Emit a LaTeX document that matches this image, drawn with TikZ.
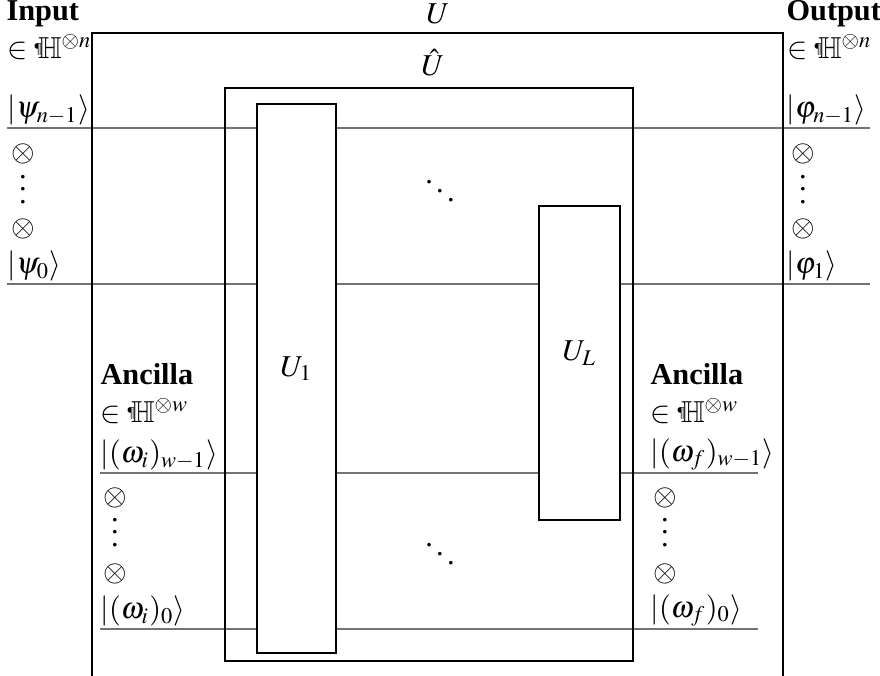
\documentclass[tikz,border=0pt]{standalone}
\usepackage{amsmath}
\usepackage{mathptmx}
\usepackage{amssymb}
\usepackage{fontspec}
\setmainfont{Liberation Serif}
\usetikzlibrary{positioning,fit}

\newcommand{\hilb}[1]{\in\text{\raisebox{.35ex}{\tiny\P}}\!\mathbb{H}^{\otimes #1}}
\tikzset{
	wire/.style={draw=black!55, line width=0.5pt},
	gate/.style={draw, thick, fill=white, inner sep=0pt},
	frame/.style={draw, thick},
	lbl/.style={inner sep=0pt},
	ket/.style={inner sep=0pt, anchor=south west},
	dots/.style={inner sep=0pt, anchor=base}
}

\begin{document}
\begin{tikzpicture}[x=0.33pt,y=-0.33pt]
	\useasboundingbox (0,0) rectangle (880,676);
	% wire ends
	\coordinate (in1) at (7,128);   \coordinate (out1) at (870,128);
	\coordinate (in0) at (7,284);   \coordinate (out0) at (870,284);
	\coordinate (ai1) at (100,473); \coordinate (ao1) at (758,473);
	\coordinate (ai0) at (100,629); \coordinate (ao0) at (758,629);
	\draw[wire] (in1) -- (out1);
	\draw[wire] (in0) -- (out0);
	\draw[wire] (ai1) -- (ao1);
	\draw[wire] (ai0) -- (ao0);
	% U (open at the bottom)
	\coordinate (ubl) at (92,676); \coordinate (ubr) at (783,676);
	\draw[frame] (ubl) |- (783,33) -- (ubr);
	\node[lbl] (u) at (438,14) {$U$};
	% U hat
	\node[frame, inner sep=0pt, fit={(225,88) (633,661)}] (uhat) {};
	\node[lbl] (uhatlbl) at (433,63) {$\hat{U}$};
	% gates
	\node[gate, fit={(257,104) (336,653)}] (U1) {$U_1$};
	\node[gate, fit={(539,206) (620,520)}] (UL) {$U_L$};
	\node[lbl] (dd1) at (440,182) {$\ddots$};
	\node[lbl] (dd2) at (440,545) {$\ddots$};
	% input side
	\node[lbl, anchor=west] (inp) at (6,14) {\textbf{Input}};
	\node[lbl, anchor=west] (inh) at (7,47) {$\hilb{n}$};
	\node[ket] (psi1) at (7,126) {$\lvert\psi_{n-1}\rangle$};
	\node[lbl] (it1) at (23,154) {$\otimes$};
	\node[dots] (iv) at (23,203) {$\vdots$};
	\node[lbl] (it2) at (23,229) {$\otimes$};
	\node[ket] (psi0) at (7,282) {$\lvert\psi_0\rangle$};
	% output side
	\node[lbl, anchor=west] (outp) at (786,14) {\textbf{Output}};
	\node[lbl, anchor=west] (outh) at (787,47) {$\hilb{n}$};
	\node[ket] (phi1) at (786,126) {$\lvert\varphi_{n-1}\rangle$};
	\node[lbl] (ot1) at (803,154) {$\otimes$};
	\node[dots] (ov) at (803,203) {$\vdots$};
	\node[lbl] (ot2) at (803,229) {$\otimes$};
	\node[ket] (phi0) at (786,282) {$\lvert\varphi_1\rangle$};
	% ancillas
	\foreach \x/\s/\nm in {100/i/l, 650/f/r} {
		\node[lbl, anchor=west] (anc\nm) at (\x,374) {\textbf{Ancilla}};
		\node[lbl, anchor=west] (anch\nm) at (\x,411) {$\hilb{w}$};
		\node[ket] (om1\nm) at (\x,471) {$\lvert(\omega_\s)_{w-1}\rangle$};
		\node[lbl] (at1\nm) at (\x+15,498) {$\otimes$};
		\node[dots] (av\nm) at (\x+15,546) {$\vdots$};
		\node[lbl] (at2\nm) at (\x+15,574) {$\otimes$};
		\node[ket] (om0\nm) at (\x,627) {$\lvert(\omega_\s)_0\rangle$};
	}
\end{tikzpicture}
\end{document}
